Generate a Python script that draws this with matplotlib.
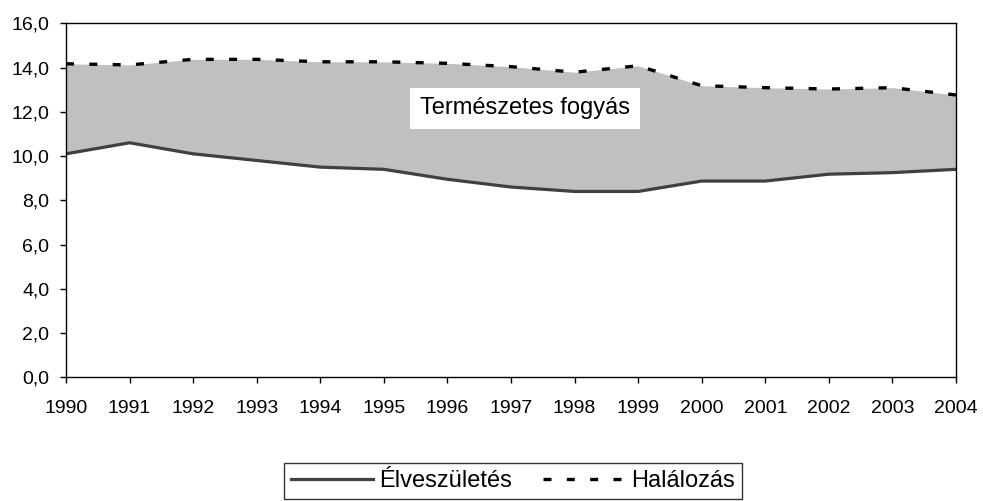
import matplotlib.pyplot as plt
from matplotlib.ticker import FuncFormatter

plt.rcParams['font.family'] = ['Liberation Sans', 'DejaVu Sans']

years = [1990, 1991, 1992, 1993, 1994, 1995, 1996, 1997, 1998, 1999, 2000, 2001, 2002, 2003, 2004]
szuletes = [10.1, 10.6, 10.1, 9.8, 9.5, 9.4, 8.95, 8.6, 8.4, 8.4, 8.87, 8.87, 9.18, 9.25, 9.4]
halalozas = [14.17, 14.12, 14.37, 14.37, 14.26, 14.26, 14.19, 14.04, 13.79, 14.08, 13.18, 13.09, 13.03, 13.09, 12.76]

fig = plt.figure(figsize=(9.83, 5.01), dpi=100)
ax = fig.add_axes([66/983, 123.7/501, 890/983, 354/501])

# grey band between the two series
ax.fill_between(years, szuletes, halalozas, color='#c0c0c0', lw=0)
ax.plot(years, szuletes, color='#404040', lw=2.3, label='Élveszületés', solid_joinstyle='round')
ax.plot(years, halalozas, color='black', lw=2.4, dashes=(2.4, 4.6), label='Halálozás')

ax.set_xlim(1990, 2004)
ax.set_ylim(0, 16)
ax.set_xticks(years)
ax.set_yticks(range(0, 17, 2))
ax.yaxis.set_major_formatter(FuncFormatter(lambda v, p: f'{v:.1f}'.replace('.', ',')))
ax.tick_params(labelsize=14, length=4, width=1, direction='out', color='black')
ax.tick_params(axis='x', pad=12)
ax.tick_params(axis='y', pad=8)
for s in ax.spines.values():
    s.set_linewidth(1)
    s.set_color('black')

ax.text(1997.22, 12.16, 'Természetes fogyás', fontsize=17, ha='center', va='center',
        bbox=dict(facecolor='white', edgecolor='none', pad=7))

leg = fig.legend(loc='upper center', bbox_to_anchor=(513/983, 1 - 463/501), ncol=2, fontsize=17,
                 frameon=True, fancybox=False, edgecolor='black', handlelength=3.5,
                 handletextpad=0.25, columnspacing=1.3, borderpad=0.3, borderaxespad=0)
leg.get_frame().set_linewidth(1)

fig.savefig('out.png', dpi=100)
